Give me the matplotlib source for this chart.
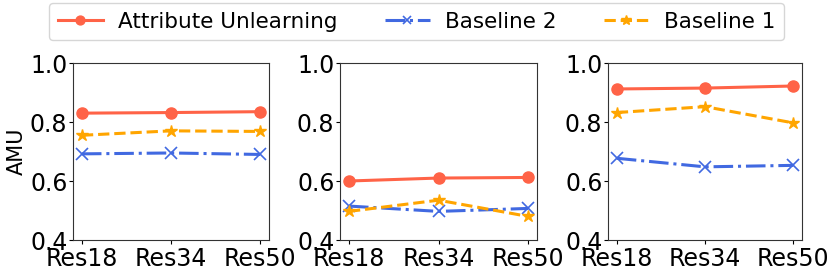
import matplotlib
matplotlib.use("Agg")
import matplotlib.pyplot as plt

models = ["Res18", "Res34", "Res50"]
attr_unlearning = [[0.830, 0.832, 0.835], [0.600, 0.610, 0.612], [0.912, 0.915, 0.922]]
baseline2 = [[0.692, 0.695, 0.690], [0.515, 0.497, 0.507], [0.677, 0.648, 0.653]]
baseline1 = [[0.755, 0.770, 0.768], [0.497, 0.535, 0.480], [0.832, 0.852, 0.797]]
yticks = [0.4, 0.6, 0.8, 1.0]

fig = plt.figure(figsize=(8.3, 2.7), dpi=100)
lefts = [73, 340, 608]
widths = [196, 197, 194]
axes = []
for i in range(3):
    ax = fig.add_axes([lefts[i] / 830, (270 - 240) / 270, widths[i] / 830, (240 - 63) / 270])
    x = range(len(models))
    l1, = ax.plot(x, attr_unlearning[i], color="tomato", marker="o", ls="-", lw=2.2, ms=8, label="Attribute Unlearning")
    l2, = ax.plot(x, baseline2[i], color="royalblue", marker="x", ls="-.", lw=2.2, ms=8, mew=1.2, label="Baseline 2")
    l3, = ax.plot(x, baseline1[i], color="orange", marker="*", ls="--", lw=2.2, ms=9, label="Baseline 1")
    ax.set_ylim(0.4, 1.0)
    ax.set_yticks(yticks)
    ax.set_xticks(list(x))
    ax.set_xticklabels(models)
    ax.set_xlim(-0.1, 2.1)
    ax.tick_params(axis='y', labelsize=17, pad=1, length=3)
    ax.tick_params(axis='x', labelsize=17, pad=2, length=3)
    for s in ax.spines.values():
        s.set_color("#333333")
    axes.append(ax)
axes[0].set_ylabel("AMU", fontsize=15, labelpad=2)
fig.legend(handles=[l1, l2, l3], loc="upper left", bbox_to_anchor=(49 / 830, 1 - 3 / 270),
           borderaxespad=0, ncol=3, fontsize=15.5, frameon=True, columnspacing=2.2,
           handlelength=2.1, handletextpad=0.7, markerscale=0.8)
fig.savefig("out.png", dpi=100)
